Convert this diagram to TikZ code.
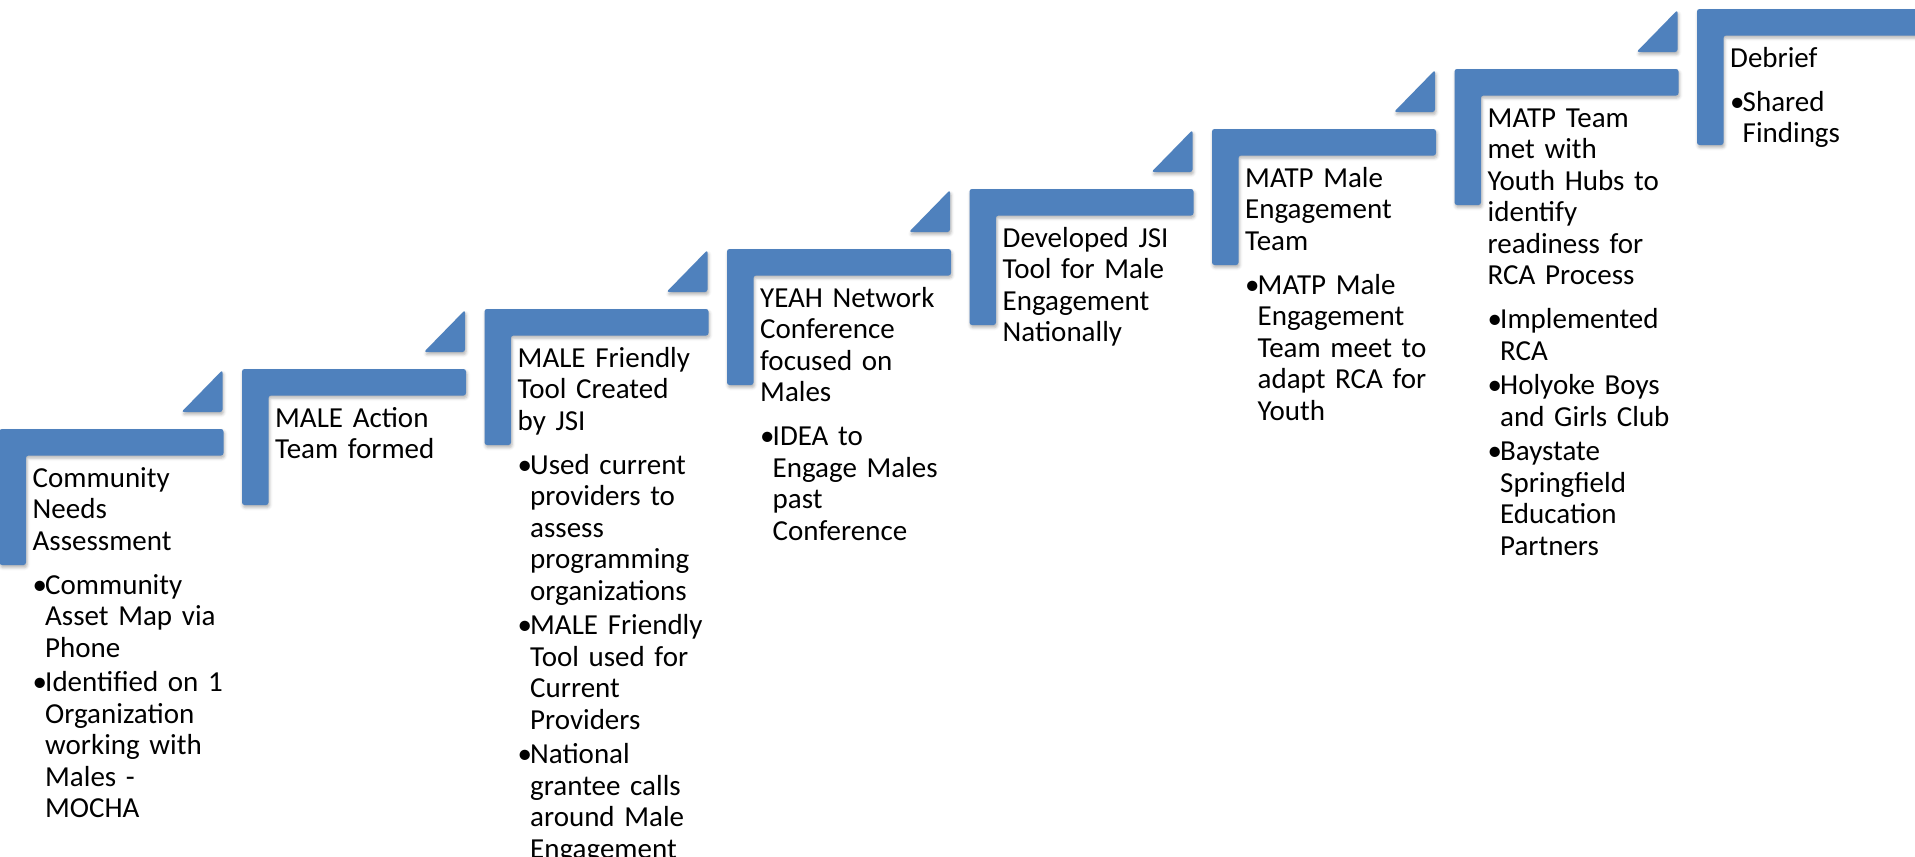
\documentclass[tikz,border=0pt]{standalone}
\usepackage{fontspec}
\setmainfont{Carlito}
\usetikzlibrary{positioning,shadows.blur}

\definecolor{stepblue}{HTML}{4F81BD}
\newcommand\stepitem[1]{\makebox[12.5pt][l]{\textbullet}\parbox[t]{200pt}{\strut#1\strut}}

\tikzset{
  stepbar/.style={fill=stepblue, rounded corners=2.5pt,
    blur shadow={shadow xshift=1pt, shadow yshift=-2.5pt, shadow blur radius=3pt, shadow opacity=30}},
  steptitle/.style={anchor=base west, inner sep=0pt, text width=220pt, align=left,
    font=\fontsize{29}{31.5}\selectfont, execute at begin node=\strut, execute at end node=\strut},
  stepbody/.style={anchor=north west, inner sep=0pt, text width=230pt, align=left,
    font=\fontsize{29}{31.5}\selectfont, execute at begin node={\setlength{\parskip}{2pt}\strut}}
}

\begin{document}
\begin{tikzpicture}[x=1pt, y=-1pt]
  \useasboundingbox (0,0) rectangle (1915,857);

  % steps
  \foreach \k/\title in {1/{Community\\Needs\\Assessment}, 2/{MALE Action\\Team formed},
      3/{MALE Friendly\\Tool Created\\by JSI}, 4/{YEAH Network\\Conference\\focused on\\Males},
      5/{Developed JSI\\Tool for Male\\Engagement\\Nationally}, 6/{MATP Male\\Engagement\\Team},
      7/{MATP Team\\met with\\Youth Hubs to\\identify\\readiness for\\RCA Process}, 8/{Debrief}}{
    \pgfmathsetmacro\sx{242.5*(\k-1)-0.5}
    \pgfmathsetmacro\sy{429-60*(\k-1)}
    \fill[stepbar] (\sx,\sy) -- ++(224,0) -- ++(0,26.5) -- ++(-197.5,0) -- ++(0,109.5) -- ++(-26.5,0) -- cycle;
    \ifnum\k<8
      \fill[stepbar] (\sx+223,\sy-59) -- (\sx+223,\sy-17) -- (\sx+182,\sy-17) -- cycle;
    \fi
    \node[steptitle] (t\k) at (\sx+33,\sy+58) {\title};
  }

  % details
  \node[stepbody, below=12.5pt of t1.south west, anchor=north west] (b1)
    {\stepitem{Community\\Asset Map via\\Phone}\par
     \stepitem{Identified on 1\\Organization\\working with\\Males -\\MOCHA}};
  \node[stepbody, below=12.5pt of t3.south west, anchor=north west] (b3)
    {\stepitem{Used current\\providers to\\assess\\programming\\organizations}\par
     \stepitem{MALE Friendly\\Tool used  for\\Current\\Providers}\par
     \stepitem{National\\grantee calls\\around Male\\Engagement}};
  \node[stepbody, below=12.5pt of t4.south west, anchor=north west] (b4)
    {\stepitem{IDEA to\\Engage Males\\past\\Conference}};
  \node[stepbody, below=12.5pt of t6.south west, anchor=north west] (b6)
    {\stepitem{MATP Male\\Engagement\\Team meet to\\adapt RCA for\\Youth}};
  \node[stepbody, below=12.5pt of t7.south west, anchor=north west] (b7)
    {\stepitem{Implemented\\RCA}\par
     \stepitem{Holyoke Boys\\and Girls Club}\par
     \stepitem{Baystate\\Springfield\\Education\\Partners}};
  \node[stepbody, below=12.5pt of t8.south west, anchor=north west] (b8)
    {\stepitem{Shared\\Findings}};
\end{tikzpicture}
\end{document}
